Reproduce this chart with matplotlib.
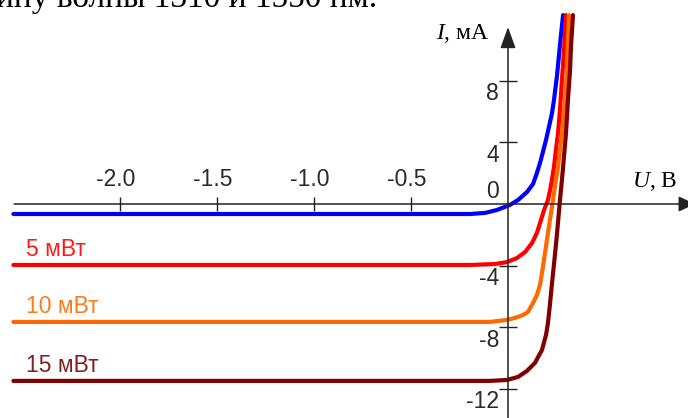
# Photodiode I-V curves at different light power
import matplotlib.pyplot as plt
import matplotlib as mpl

mpl.rcParams['mathtext.fontset'] = 'custom'
mpl.rcParams['mathtext.rm'] = 'Liberation Serif'
mpl.rcParams['mathtext.it'] = 'Liberation Serif:italic'
mpl.rcParams['axes.unicode_minus'] = False

# data: U in volts, I in mA
blue_u = [-2.55, -0.196, -0.119, -0.057, 0.010, 0.052, 0.098, 0.129, 0.149, 0.165,
          0.180, 0.196, 0.211, 0.227, 0.237, 0.253, 0.263, 0.273, 0.284]
blue_i = [-0.65, -0.65, -0.58, -0.39, -0.06, 0.26, 0.78, 1.30, 2.01, 2.66,
          3.38, 4.16, 5.00, 5.91, 6.75, 8.38, 9.68, 10.97, 12.27]

red_u = [-2.55, -0.196, -0.067, -0.005, 0.046, 0.088, 0.124, 0.149, 0.170, 0.186,
         0.206, 0.222, 0.237, 0.247, 0.258, 0.268, 0.278, 0.289, 0.299]
red_i = [-3.96, -3.96, -3.90, -3.77, -3.51, -3.12, -2.53, -1.88, -1.04, -0.39,
         0.26, 1.23, 2.40, 3.51, 4.61, 6.10, 8.05, 10.0, 12.27]

orange_u = [-2.55, -0.093, -0.005, 0.036, 0.077, 0.103, 0.129, 0.149, 0.165, 0.180,
            0.206, 0.232, 0.247, 0.258, 0.268, 0.278, 0.294, 0.304, 0.309, 0.314]
orange_i = [-7.66, -7.66, -7.53, -7.40, -7.21, -7.01, -6.43, -5.91, -5.26, -4.09,
            -1.88, 0.26, 1.56, 2.40, 3.51, 4.61, 6.75, 8.70, 10.32, 12.27]

brown_u = [-2.55, -0.093, -0.005, 0.052, 0.098, 0.139, 0.175, 0.196, 0.206, 0.216,
           0.227, 0.242, 0.253, 0.268, 0.278, 0.284, 0.299, 0.309, 0.320, 0.325, 0.335]
brown_i = [-11.49, -11.49, -11.43, -11.23, -10.84, -10.32, -9.48, -8.51, -7.73, -6.56,
           -5.13, -3.31, -1.88, 0.26, 1.56, 2.40, 4.61, 6.75, 8.70, 10.32, 12.27]

power_labels = ['5 мВт', '10 мВт', '15 мВт']
xtick_vals = [-2.0, -1.5, -1.0, -0.5]
xtick_labels = ['-2.0', '-1.5', '-1.0', '-0.5']
ytick_vals = [8, 4, -4, -8, -12]
ytick_labels = ['8', '4', '-4', '-8', '-12']

fig = plt.figure(figsize=(6.88, 4.18), dpi=100)
ax = fig.add_axes([0, 0, 1, 1])
ax.set_xlim(-2.619, 0.928)
ax.set_ylim(-13.9, 13.25)

# axes through the origin
for s in ['right', 'top']:
    ax.spines[s].set_visible(False)
ax.spines['left'].set_position(('data', 0))
ax.spines['bottom'].set_position(('data', 0))
ax.spines['left'].set_visible(False)
ax.spines['bottom'].set_visible(False)

axcol = '#222222'
ax.annotate('', xy=(0.964, 0), xytext=(-2.546, 0), annotation_clip=False,
            arrowprops=dict(arrowstyle='-|>,head_length=1.0,head_width=0.47',
                            mutation_scale=10, color=axcol, lw=1.1,
                            shrinkA=0, shrinkB=0))
ax.annotate('', xy=(0, 11.49), xytext=(0, -13.9), annotation_clip=False,
            arrowprops=dict(arrowstyle='-|>,head_length=1.3,head_width=0.47',
                            mutation_scale=10, color=axcol, lw=1.1,
                            shrinkA=0, shrinkB=0))

ax.set_xticks(xtick_vals)
ax.set_yticks(ytick_vals)
ax.tick_params(axis='x', direction='inout', length=9.5, width=1.0, color=axcol,
               labelbottom=False)
ax.tick_params(axis='y', direction='inout', length=13, width=1.0, color=axcol,
               labelleft=False)

tfont = dict(family='Liberation Sans', size=16.5, color='#2a2a2a')
for v, lab in zip(xtick_vals, xtick_labels):
    ax.annotate(lab, (v, 0), xytext=(-3, 13), textcoords='offset points',
                ha='center', va='baseline', **tfont)
for v, lab in zip(ytick_vals, ytick_labels):
    ax.annotate(lab, (0, v), xytext=(-6.5, -14), textcoords='offset points',
                ha='right', va='baseline', **tfont)
ax.annotate('0', (0, 0), xytext=(-6.5, 4.5), textcoords='offset points',
            ha='right', va='baseline', **tfont)

# curves
lw = 3.0
ax.plot(blue_u, blue_i, color='#0000ff', lw=lw, solid_capstyle='round')
ax.plot(red_u, red_i, color='#ff0000', lw=lw, solid_capstyle='round')
ax.plot(orange_u, orange_i, color='#ff6a00', lw=lw, solid_capstyle='round')
ax.plot(brown_u, brown_i, color='#800000', lw=lw, solid_capstyle='round')

lab_cols = ['#ff1a1a', '#ff7a1a', '#802020']
for lab, u, i, c in zip(power_labels, [red_u, orange_u, brown_u],
                        [red_i, orange_i, brown_i], lab_cols):
    ax.annotate(lab, (u[0], i[0]), xytext=(9.4, 6.5), textcoords='offset points',
                ha='left', va='baseline', family='Liberation Sans', size=16.5, color=c)

# axis titles
fig.text(490 / 688, 1 - 39 / 418, '$I$, мА', ha='right', va='baseline',
         family='Liberation Serif', size=17)
fig.text(632 / 688, 1 - 187 / 418, '$U$, В', ha='left', va='baseline',
         family='Liberation Serif', size=17)

# text of the page above the figure, cut off
fig.text(-0.006, 1 - 7.5 / 418, 'ину волны 1310 и 1550 нм.', ha='left',
         va='baseline', family='Liberation Serif', size=24)

fig.savefig('out.png', dpi=100)
